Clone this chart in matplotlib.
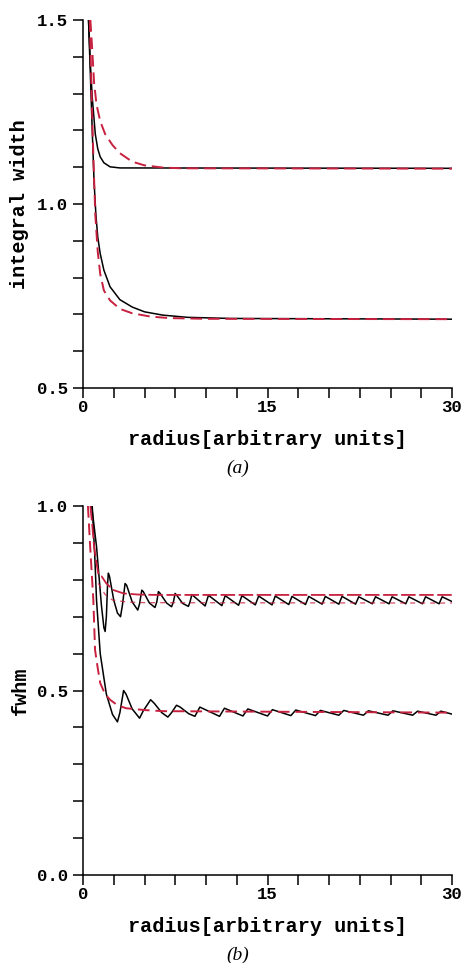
import matplotlib.pyplot as plt
from matplotlib.ticker import FixedLocator, MultipleLocator, FormatStrFormatter

plt.rcParams['font.family'] = ['Liberation Mono', 'DejaVu Sans Mono']
plt.rcParams['font.weight'] = 'bold'

RED = '#c8203f'

# ---- panel (a): integral width vs radius ----
a_top_black_x = [0.45, 0.6, 0.75, 0.85, 1.0, 1.2, 1.4, 1.7, 2.2, 3.0, 30.0]
a_top_black_y = [1.50, 1.38, 1.29, 1.25, 1.19, 1.15, 1.128, 1.112, 1.101, 1.098, 1.097]

a_top_red_x = [0.6, 0.75, 0.9, 1.1, 1.4, 1.8, 2.4, 3.0, 4.0, 5.0, 6.5, 8.0, 30.0]
a_top_red_y = [1.50, 1.42, 1.33, 1.27, 1.225, 1.19, 1.16, 1.138, 1.115, 1.105, 1.099, 1.097, 1.096]

a_low_black_x = [0.45, 0.6, 0.75, 0.9, 1.05, 1.2, 1.4, 1.7, 2.2, 3.0, 4.0, 5.0, 6.5, 8.5, 12.0, 30.0]
a_low_black_y = [1.50, 1.35, 1.20, 1.06, 0.97, 0.91, 0.865, 0.82, 0.775, 0.74, 0.72, 0.707, 0.698, 0.692, 0.689, 0.687]

a_low_red_x = [0.55, 0.7, 0.85, 1.0, 1.2, 1.4, 1.7, 2.2, 3.0, 4.0, 5.5, 7.0, 10.0, 30.0]
a_low_red_y = [1.50, 1.30, 1.12, 0.97, 0.87, 0.81, 0.765, 0.738, 0.715, 0.703, 0.694, 0.690, 0.688, 0.687]

# ---- panel (b): fwhm vs radius ----
b_up_red_x = [0.6, 0.75, 0.9, 1.05, 1.25, 1.5, 1.9, 2.5, 3.3, 4.5, 6.0, 30.0]
b_up_red_y = [1.0, 0.95, 0.89, 0.856, 0.815, 0.81, 0.79, 0.772, 0.763, 0.760, 0.759, 0.759]

b_mid_red_x = [1.25, 1.8, 2.4, 3.5, 5.0, 30.0]
b_mid_red_y = [0.79, 0.76, 0.745, 0.740, 0.738, 0.737]

b_up_black_x = [0.7, 0.85, 1.1, 1.5, 1.7, 1.8, 1.9, 2.0, 2.06,
                2.15, 2.5, 2.8, 3.05, 3.2, 3.42, 3.55, 4.0, 4.45, 4.6, 4.78,
                4.9, 5.4, 5.85, 6.0, 6.13, 6.25, 6.8, 7.2, 7.35, 7.49,
                7.6, 8.1, 8.57, 8.7, 8.85,
                9.93, 10.2, 11.29, 11.56, 12.65, 12.92, 14.01, 14.28, 15.37, 15.63,
                16.73, 16.99, 18.09, 18.35, 19.44, 19.7, 20.8, 21.06, 22.16, 22.42,
                23.52, 23.78, 24.88, 25.13, 26.24, 26.49, 27.6, 27.85, 28.95, 29.2, 30.0]
b_up_black_y = [1.0, 0.96, 0.89, 0.73, 0.67, 0.66, 0.70, 0.79, 0.818,
                0.81, 0.745, 0.71, 0.700, 0.73, 0.790, 0.785, 0.74, 0.718, 0.735, 0.772,
                0.768, 0.737, 0.725, 0.74, 0.768, 0.764, 0.737, 0.727, 0.74, 0.763,
                0.759, 0.736, 0.728, 0.74, 0.760,
                0.729, 0.758, 0.730, 0.757, 0.731, 0.757, 0.732, 0.756, 0.732, 0.756,
                0.733, 0.755, 0.733, 0.755, 0.734, 0.755, 0.734, 0.755, 0.734, 0.754,
                0.735, 0.754, 0.735, 0.754, 0.735, 0.754, 0.735, 0.754, 0.735, 0.754, 0.741]

b_low_red_x = [0.4, 0.6, 0.84, 0.98, 1.2, 1.4, 1.8, 2.2, 2.8, 3.5, 5.0, 6.5, 30.0]
b_low_red_y = [1.0, 0.88, 0.745, 0.61, 0.56, 0.52, 0.49, 0.475, 0.46, 0.452, 0.447, 0.444, 0.440]

b_low_black_x = [0.75, 0.95, 1.1, 1.4, 1.9, 2.4, 2.8, 3.0, 3.3, 3.5, 4.0, 4.6, 4.9, 5.5,
                 5.8, 6.4, 6.9, 7.2, 7.6, 7.9, 8.6, 9.1, 9.5,
                 11.1, 11.5, 13.0, 13.4, 15.0, 15.4, 16.9, 17.3, 18.9, 19.3, 20.8, 21.2,
                 22.8, 23.2, 24.8, 25.2, 26.8, 27.2, 28.7, 29.1, 30.0]
b_low_black_y = [1.0, 0.87, 0.745, 0.60, 0.49, 0.435, 0.415, 0.44, 0.50, 0.49, 0.45, 0.425, 0.445, 0.475,
                 0.465, 0.44, 0.428, 0.44, 0.46, 0.455, 0.437, 0.43, 0.455,
                 0.43, 0.452, 0.431, 0.45, 0.431, 0.448, 0.432, 0.447, 0.432, 0.446, 0.433, 0.446,
                 0.433, 0.445, 0.433, 0.445, 0.433, 0.444, 0.433, 0.444, 0.436]

x_ticks = [0, 15, 30]


def style_axes(ax, ymin, ymax, ylabel):
    ax.set_xlim(0, 30)
    ax.set_ylim(ymin, ymax)
    for side in ['top', 'right']:
        ax.spines[side].set_visible(False)
    for side in ['left', 'bottom']:
        ax.spines[side].set_linewidth(1.1)
    ax.xaxis.set_major_locator(FixedLocator(x_ticks))
    ax.xaxis.set_minor_locator(MultipleLocator(2.5))
    ax.yaxis.set_major_locator(MultipleLocator(0.5))
    ax.yaxis.set_minor_locator(MultipleLocator(0.1))
    ax.yaxis.set_major_formatter(FormatStrFormatter('%.1f'))
    ax.tick_params(which='both', direction='out', length=7.5, width=1.1,
                   labelsize=12.5, color='black')
    ax.tick_params(axis='x', which='both', pad=1)
    ax.tick_params(axis='y', which='both', pad=3)
    ax.set_xlabel('radius[arbitrary units]', fontsize=14.5, fontweight='bold')
    ax.xaxis.set_label_coords(0.5, -0.115)
    ax.set_ylabel(ylabel, fontsize=14.5, fontweight='bold')
    ax.yaxis.set_label_coords(-0.145, 0.5)


fig = plt.figure(figsize=(4.65, 9.63), dpi=100)
ax_a = fig.add_axes([83 / 465, 1 - 388 / 963, 369 / 465, 368 / 963])
ax_b = fig.add_axes([83 / 465, 1 - 875 / 963, 369 / 465, 369 / 963])

ax_a.plot(a_top_black_x, a_top_black_y, color='black', lw=1.1)
ax_a.plot(a_low_black_x, a_low_black_y, color='black', lw=1.1)
ax_a.plot(a_top_red_x, a_top_red_y, color=RED, lw=1.4, dashes=(6, 3))
ax_a.plot(a_low_red_x, a_low_red_y, color=RED, lw=1.4, dashes=(6, 3))
style_axes(ax_a, 0.5, 1.5, 'integral width')

ax_b.plot(b_up_black_x, b_up_black_y, color='black', lw=1.1)
ax_b.plot(b_low_black_x, b_low_black_y, color='black', lw=1.1)
ax_b.plot(b_up_red_x, b_up_red_y, color=RED, lw=1.3, dashes=(8, 2))
ax_b.plot(b_mid_red_x, b_mid_red_y, color=RED, lw=0.9, dashes=(4, 4), alpha=0.8)
ax_b.plot(b_low_red_x, b_low_red_y, color=RED, lw=1.4, dashes=(6, 3))
style_axes(ax_b, 0.0, 1.0, 'fwhm')

fig.text(238 / 465, 1 - 468 / 963, '(a)', family='Liberation Serif', style='italic',
         weight='normal', fontsize=14, ha='center', va='center')
fig.text(238 / 465, 1 - 955 / 963, '(b)', family='Liberation Serif', style='italic',
         weight='normal', fontsize=14, ha='center', va='center')

fig.savefig('out.png', dpi=100)
